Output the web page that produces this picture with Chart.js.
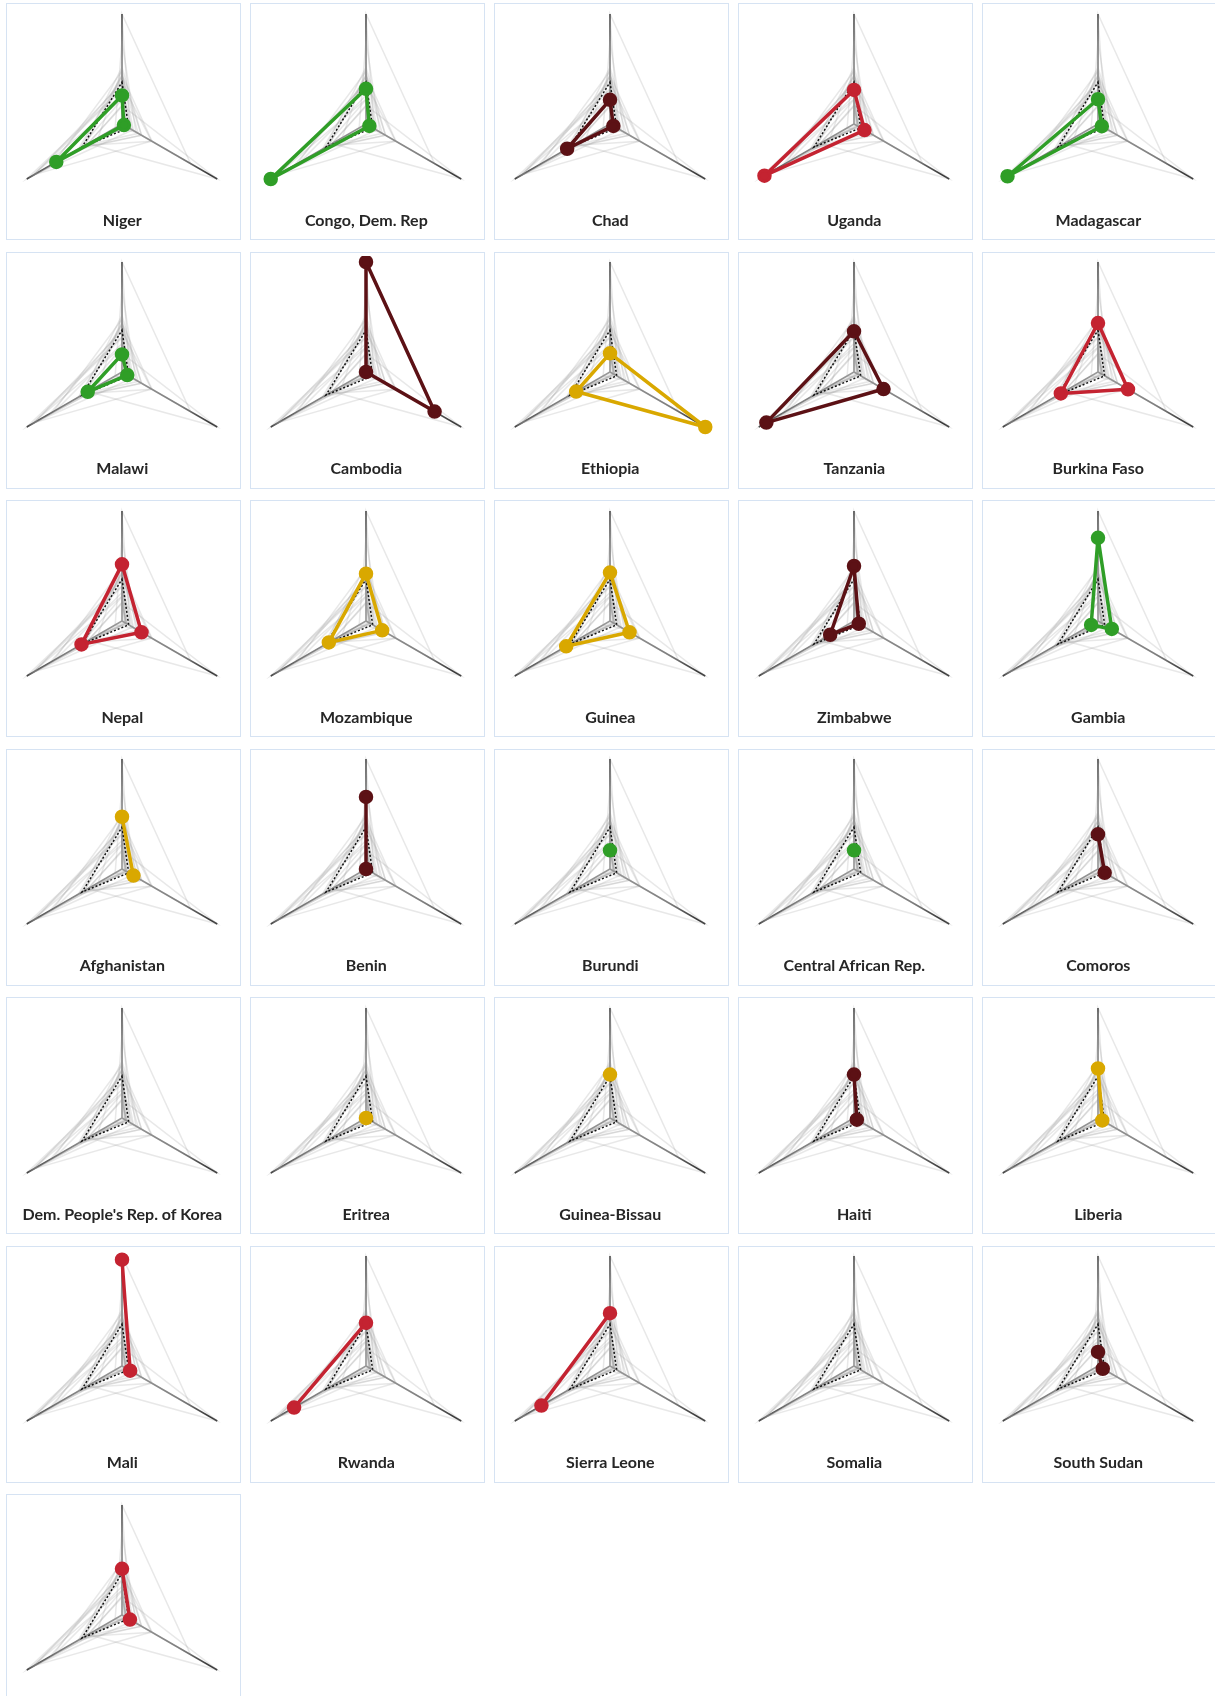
<!DOCTYPE html>
<html>
<head>
<meta charset="utf-8">
<script src="https://cdn.jsdelivr.net/npm/chart.js@4.4.1/dist/chart.umd.min.js"></script>
<style>
  html, body { margin: 0; padding: 0; background: #fff; }
  body { width: 1215px; height: 1696px; overflow: hidden; position: relative; font-family: Lato, "Open Sans", sans-serif; }
  .panel { position: absolute; width: 235px; height: 237px; box-sizing: border-box; border: 1.5px solid #d6e3f3; background: #fff; }
  .radar { position: absolute; }
  .name { position: absolute; width: 240px; text-align: center; font: bold 16px Lato, "Open Sans", sans-serif; color: #262626; line-height: 20px; white-space: nowrap; }
</style>
</head>
<body>
<script>
// Country names, in panel order (left to right, top to bottom)
const countries = [
  'Niger', 'Congo, Dem. Rep', 'Chad', 'Uganda', 'Madagascar',
  'Malawi', 'Cambodia', 'Ethiopia', 'Tanzania', 'Burkina Faso',
  'Nepal', 'Mozambique', 'Guinea', 'Zimbabwe', 'Gambia',
  'Afghanistan', 'Benin', 'Burundi', 'Central African Rep.', 'Comoros',
  "Dem. People's Rep. of Korea", 'Eritrea', 'Guinea-Bissau', 'Haiti', 'Liberia',
  'Mali', 'Rwanda', 'Sierra Leone', 'Somalia', 'South Sudan',
  'Yemen'
];

// Three indicators per country, scaled 0..1 (null = no data)
const indicatorTop = [
  0.26, 0.32, 0.22, 0.31, 0.225,
  0.16, 1.00, 0.17, 0.37, 0.445,
  0.515, 0.43, 0.44, 0.50, 0.756,
  0.475, 0.655, 0.17, 0.17, 0.315,
  null, 0.00, 0.395, 0.395, 0.45,
  0.966, 0.393, 0.48, null, 0.128,
  0.42
];
const indicatorRight = [
  0.02, 0.035, 0.035, 0.11, 0.04,
  0.055, 0.72, 1.00, 0.31, 0.315,
  0.205, 0.17, 0.205, 0.05, 0.145,
  0.12, 0.00, null, null, 0.07,
  null, null, null, 0.03, 0.045,
  0.085, null, null, null, 0.05,
  0.083
];
const indicatorLeft = [
  0.69, 1.00, 0.45, 0.94, 0.95,
  0.36, 0.00, 0.355, 0.92, 0.39,
  0.425, 0.39, 0.46, 0.25, 0.072,
  null, null, null, null, null,
  null, null, null, null, null,
  null, 0.755, 0.72, null, null,
  null
];

// Group of each country (colour key)
const group = [
  'G', 'G', 'M', 'R', 'G',
  'G', 'M', 'Y', 'M', 'R',
  'R', 'Y', 'Y', 'M', 'G',
  'Y', 'M', 'G', 'G', 'M',
  'Y', 'Y', 'Y', 'M', 'Y',
  'R', 'R', 'R', 'M', 'M',
  'R'
];

// Reference profile shown dotted in every panel
const benchmark = [0.38, 0.07, 0.42];

const axisKeys = ['top', 'right', 'left'];

const palette = { G: '#2f9e27', M: '#5c1115', R: '#c42331', Y: '#d9a800' };

function profile(i) {
  return [indicatorTop[i], indicatorRight[i], indicatorLeft[i]];
}

// axis lines darken towards their outer end
function axisColor(ctx) {
  const scale = ctx.chart.scales.r;
  if (!scale || !scale.drawingArea) return '#777';
  const tip = scale.getPointPosition(ctx.index, scale.getDistanceFromCenterForValue(scale.max));
  const g = ctx.chart.ctx.createLinearGradient(scale.xCenter, scale.yCenter, tip.x, tip.y);
  g.addColorStop(0, '#9a9a9a');
  g.addColorStop(0.6, '#7a7a7a');
  g.addColorStop(1, '#2a2a2a');
  return g;
}

const COL_W = 244, ROW_H = 248.5;
const CX0 = 122.3, CY0 = 123.7;
const CANVAS = 233, PAD = 6;

countries.forEach((name, k) => {
  const col = k % 5, row = Math.floor(k / 5);
  const cx = CX0 + COL_W * col;
  const cy = CY0 + ROW_H * row;

  const panel = document.createElement('div');
  panel.className = 'panel';
  panel.style.left = Math.round(6 + COL_W * col) + 'px';
  panel.style.top = Math.round(3.3 + ROW_H * row) + 'px';
  document.body.appendChild(panel);

  const canvas = document.createElement('canvas');
  canvas.className = 'radar';
  canvas.width = CANVAS; canvas.height = CANVAS;
  canvas.style.width = CANVAS + 'px'; canvas.style.height = CANVAS + 'px';
  canvas.style.left = (Math.round(cx) - PAD - 110) + 'px';
  canvas.style.top = (Math.round(cy) - PAD - 110) + 'px';
  document.body.appendChild(canvas);

  const label = document.createElement('div');
  label.className = 'name';
  label.textContent = name;
  label.style.left = (cx - 120) + 'px';
  label.style.top = (cy + 86) + 'px';
  document.body.appendChild(label);

  const colour = palette[group[k]];
  const datasets = [];
  datasets.push({
    data: profile(k),
    borderColor: colour,
    pointBackgroundColor: colour,
    pointBorderColor: colour,
    borderWidth: 3.5,
    pointRadius: 5.5,
    borderJoinStyle: 'round',
    fill: false,
    spanGaps: true,
    clip: false,
    order: 0
  });
  datasets.push({
    data: benchmark,
    borderColor: '#111',
    borderDash: [2, 2],
    borderWidth: 1.5,
    pointRadius: 0,
    fill: false,
    clip: false,
    order: 1
  });
  countries.forEach((_, j) => {
    datasets.push({
      data: profile(j),
      borderColor: 'rgba(150,150,150,0.22)',
      borderWidth: 1.5,
      pointRadius: 0,
      fill: false,
      spanGaps: true,
      clip: false,
      order: 2
    });
  });

  new Chart(canvas, {
    type: 'radar',
    data: { labels: axisKeys, datasets },
    options: {
      responsive: false,
      animation: false,
      events: [],
      devicePixelRatio: 1,
      layout: { padding: PAD },
      plugins: { legend: { display: false }, tooltip: { enabled: false } },
      scales: {
        r: {
          min: 0, max: 1,
          ticks: { display: false },
          grid: { display: false },
          pointLabels: { display: false },
          angleLines: { display: true, lineWidth: 1.5, color: axisColor }
        }
      }
    }
  });
});
</script>
</body>
</html>
